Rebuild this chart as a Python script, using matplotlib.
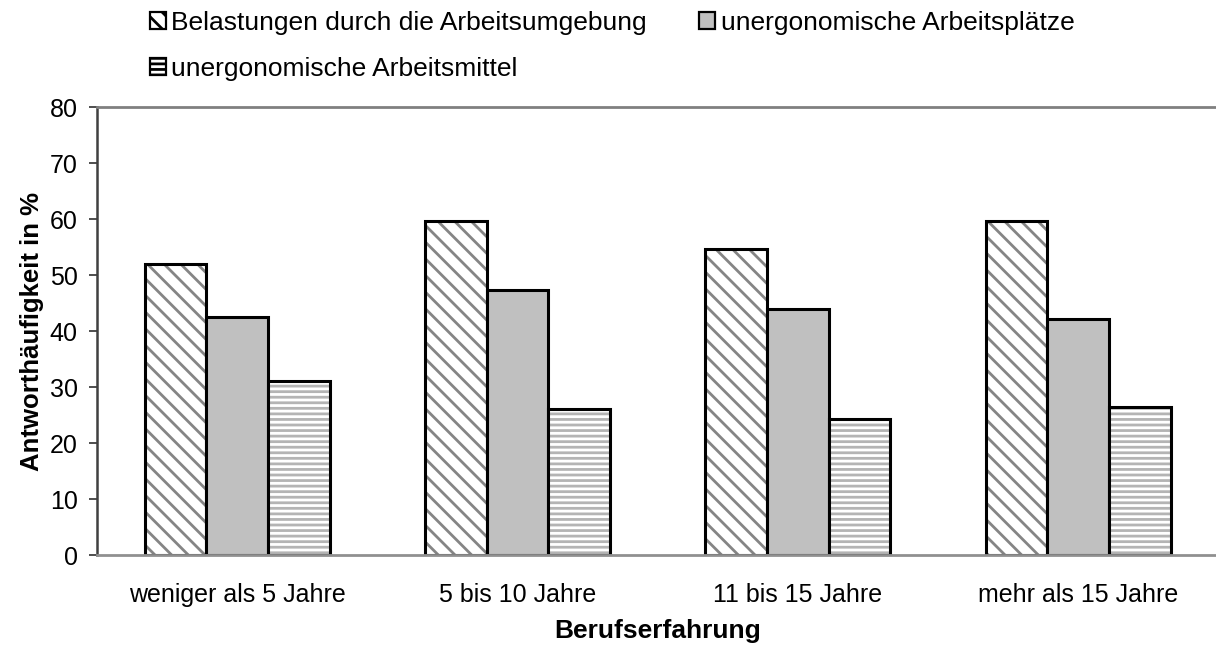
import numpy as np
from matplotlib import pyplot as plt

plt.rcParams['font.family'] = ['Liberation Sans', 'DejaVu Sans']
plt.rcParams['hatch.linewidth'] = 2.0

categories = ['weniger als 5 Jahre', '5 bis 10 Jahre', '11 bis 15 Jahre', 'mehr als 15 Jahre']
series_names = ['Belastungen durch die Arbeitsumgebung',
                'unergonomische Arbeitsplätze',
                'unergonomische Arbeitsmittel']
umgebung = [52.0, 59.6, 54.6, 59.7]
arbeitsplaetze = [42.5, 47.3, 44.0, 42.2]
arbeitsmittel = [31.1, 26.0, 24.3, 26.5]

fig = plt.figure(figsize=(12.16, 6.47), dpi=100)
ax = fig.add_axes([0.0798, 0.142, 0.922, 0.6926])

x = np.arange(len(categories))
w = 0.22
styles = [dict(color='white', hatch='\\\\', edge='#858585'),
          dict(color='#c0c0c0', hatch='', edge='#c0c0c0'),
          dict(color='white', hatch='---', edge='#b4b4b4')]
handles = []
for i, (vals, st) in enumerate(zip([umgebung, arbeitsplaetze, arbeitsmittel], styles)):
    pos = x + (i - 1) * w
    ax.bar(pos, vals, w, color=st['color'], hatch=st['hatch'], edgecolor=st['edge'], linewidth=0)
    ax.bar(pos, vals, w, fill=False, edgecolor='black', linewidth=2.2)
    h = plt.Rectangle((0, 0), 1, 1, facecolor=st['color'], hatch=st['hatch'],
                      edgecolor='black', linewidth=1.6)
    handles.append(h)

ax.set_xlim(-0.5, 3.5)
ax.set_ylim(0, 80)
ax.set_yticks(np.arange(0, 81, 10))
ax.set_xticks(x)
ax.set_xticklabels(categories, fontsize=18)
ax.tick_params(axis='x', length=0, pad=20)
ax.tick_params(axis='y', labelsize=18, length=6, width=1.3, color='#404040', direction='out', pad=8)
ax.spines['right'].set_visible(False)
ax.spines['top'].set_color('#808080')
ax.spines['top'].set_linewidth(2)
ax.spines['bottom'].set_color('#909090')
ax.spines['bottom'].set_linewidth(2)
ax.spines['left'].set_color('#404040')
ax.spines['left'].set_linewidth(1.8)
ax.set_ylabel('Antworthäufigkeit in %', fontsize=18.5, fontweight='bold', labelpad=4)
ax.set_xlabel('Berufserfahrung', fontsize=19, fontweight='bold', labelpad=9)

order = [0, 2, 1]
fig.legend([handles[k] for k in order], [series_names[k] for k in order],
           loc='upper left', bbox_to_anchor=(0.1146, 1.0),
           ncol=2, frameon=False, fontsize=19, handlelength=0.6, handleheight=0.6,
           handletextpad=0.2, columnspacing=2.0, labelspacing=0.85, borderaxespad=0.0)

plt.savefig('out.png')
